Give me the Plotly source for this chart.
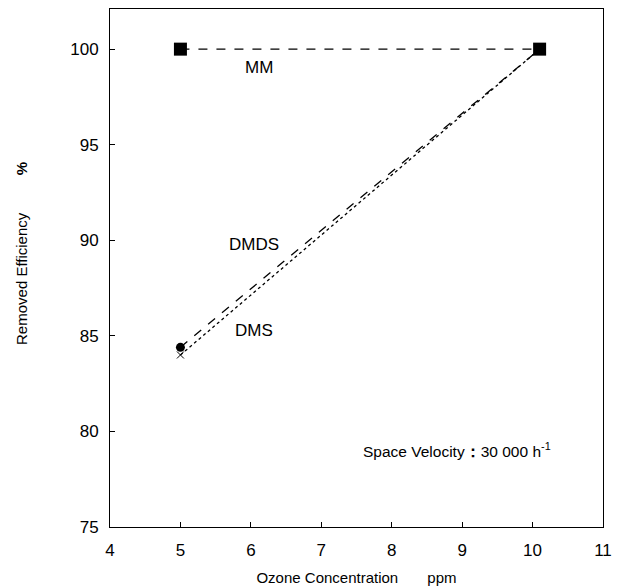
import plotly.graph_objects as go

ozone = [5, 10.1]
mm = [100, 100]
dmds = [84.4, 100]
dms = [84.0, 100]

labels = ["MM", "DMDS", "DMS"]
label_x = [6.11, 6.04, 6.04]
label_y = [99.05, 89.8, 85.3]

fig = go.Figure()
fig.add_trace(go.Scatter(x=ozone, y=mm, mode="lines+markers",
                         line=dict(color="black", width=1.3, dash="dash"),
                         marker=dict(symbol="square", size=13, color="black")))
fig.add_trace(go.Scatter(x=ozone, y=dmds, mode="lines",
                         line=dict(color="black", width=1.3, dash="dash")))
fig.add_trace(go.Scatter(x=ozone[:1], y=dmds[:1], mode="markers",
                         marker=dict(symbol="circle", size=9, color="black")))
fig.add_trace(go.Scatter(x=ozone, y=dms, mode="lines",
                         line=dict(color="black", width=1.3, dash="dot")))
fig.add_trace(go.Scatter(x=ozone[:1], y=dms[:1], mode="markers",
                         marker=dict(symbol="x-thin", size=7, color="black",
                                     line=dict(color="black", width=1))))

for t, x, y in zip(labels, label_x, label_y):
    fig.add_annotation(x=x, y=y, text=t, showarrow=False,
                       font=dict(size=17, color="black", family="Liberation Sans"))

fig.add_annotation(x=8.93, y=79.05, showarrow=False,
                   text="Space Velocity<b>：</b>30 000 h<sup>-1</sup>",
                   font=dict(size=15.5, color="black", family="Liberation Sans"))

fig.update_layout(
    width=621, height=587,
    margin=dict(l=110, r=18, t=9, b=60),
    plot_bgcolor="white", paper_bgcolor="white",
    showlegend=False,
    font=dict(family="Liberation Sans", color="black", size=17),
)
fig.update_xaxes(range=[4, 11], dtick=1, showgrid=False, zeroline=False, automargin=False,
                 showline=True, linecolor="black", linewidth=1, mirror=True,
                 ticks="inside", ticklen=5, tickcolor="black", ticklabelstandoff=8,
                 title=dict(text="Ozone Concentration" + "&nbsp;" * 7 + "ppm",
                            font=dict(size=15), standoff=13))
fig.update_yaxes(range=[75, 102.1], tickvals=[75, 80, 85, 90, 95, 100], showgrid=False, zeroline=False,
                 automargin=False,
                 showline=True, linecolor="black", linewidth=1, mirror=True,
                 ticks="inside", ticklen=5, tickcolor="black", ticklabelstandoff=7,
                 title=dict(text="&nbsp;" * 7 + "Removed Efficiency" + "&nbsp;" * 9 + "<b>%</b>",
                            font=dict(size=15), standoff=38))

fig.write_html("out.html")
